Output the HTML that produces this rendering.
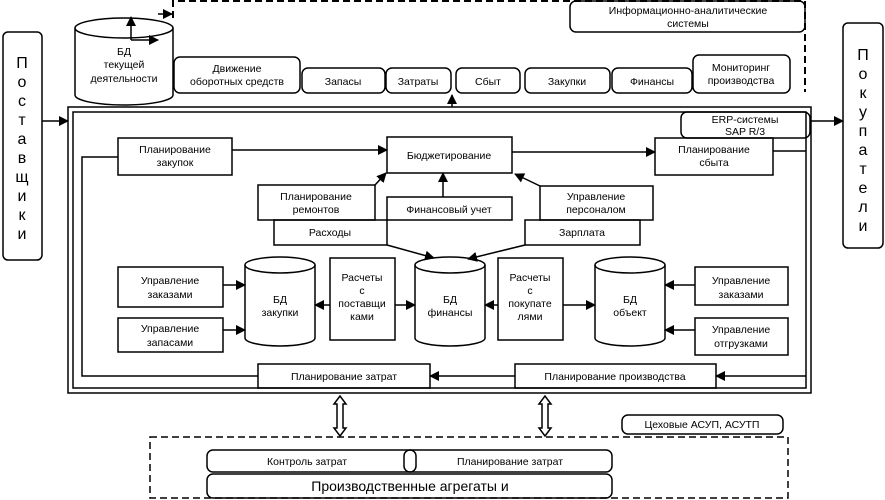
<!DOCTYPE html>
<html><head><meta charset="utf-8"><style>
html,body{margin:0;padding:0;background:#fff;}
svg{display:block;}
text{font-family:"Liberation Sans","Noto Sans CJK SC",sans-serif;font-size:10.5px;fill:#000;text-anchor:middle;}
text.big{font-size:16px;}
text.mid{font-size:14px;}
</style></head><body>
<svg width="885" height="500" viewBox="0 0 885 500" xmlns="http://www.w3.org/2000/svg">
<defs>
<marker id="a" markerWidth="10" markerHeight="10" refX="9" refY="5" orient="auto" markerUnits="userSpaceOnUse"><path d="M0,0 L10,5 L0,10 z" fill="#000"/></marker>
</defs>
<g fill="none" stroke="#000" stroke-width="1.5">
<rect x="3" y="32" width="39" height="228" rx="5"/>
<rect x="843" y="23" width="40" height="225" rx="5"/>
<path d="M173,18 V1 H805 V92" stroke-dasharray="7,4" stroke-width="2"/>
<rect x="570" y="1" width="235" height="31" rx="6"/>
<path d="M75,28 V95 A49,10 0 0 0 173,95 V28"/>
<ellipse cx="124" cy="28" rx="49" ry="10"/>
<rect x="174" y="57" width="126" height="36" rx="6"/>
<rect x="302" y="68" width="83" height="25" rx="6"/>
<rect x="386" y="68" width="65" height="25" rx="6"/>
<rect x="456" y="68" width="64" height="25" rx="6"/>
<rect x="525" y="68" width="85" height="25" rx="6"/>
<rect x="612" y="68" width="80" height="25" rx="6"/>
<rect x="693" y="55" width="97" height="38" rx="6"/>
<rect x="68" y="107" width="743" height="286"/>
<rect x="73" y="112" width="733" height="276"/>
<rect x="681" y="112" width="129" height="26" rx="6"/>
<rect x="118" y="138" width="114" height="37"/>
<rect x="387" y="137" width="125" height="36"/>
<rect x="655" y="138" width="118" height="37"/>
<rect x="258" y="185" width="117" height="35"/>
<rect x="387" y="197" width="125" height="23"/>
<rect x="540" y="186" width="113" height="34"/>
<rect x="274" y="220" width="113" height="25"/>
<rect x="525" y="220" width="115" height="25"/>
<rect x="118" y="267" width="105" height="40"/>
<rect x="118" y="318" width="105" height="34"/>
<rect x="695" y="267" width="93" height="38"/>
<rect x="695" y="318" width="93" height="37"/>
<rect x="330" y="258" width="65" height="82"/>
<rect x="498" y="258" width="65" height="82"/>
<rect x="258" y="364" width="172" height="24"/>
<rect x="515" y="364" width="201" height="24"/>
<path d="M245,265 V338 A35,8 0 0 0 315,338 V265"/><ellipse cx="280" cy="265" rx="35" ry="8"/>
<path d="M415,265 V338 A35,8 0 0 0 485,338 V265"/><ellipse cx="450" cy="265" rx="35" ry="8"/>
<path d="M595,265 V338 A35,8 0 0 0 665,338 V265"/><ellipse cx="630" cy="265" rx="35" ry="8"/>
<rect x="622" y="415" width="161" height="19" rx="6"/>
<path d="M150,437 H788 V498 H150 Z" stroke-dasharray="7,4"/>
<rect x="207" y="450" width="405" height="22" rx="6"/>
<rect x="404" y="450" width="12" height="22" rx="6"/>
<rect x="207" y="474" width="405" height="24" rx="6"/>
<path d="M334,404 L340,396 L346,404 H343 V428 H346 L340,436 L334,428 H337 V404 Z"/>
<path d="M539,404 L545,396 L551,404 H548 V428 H551 L545,436 L539,428 H542 V404 Z"/>
</g>
<g fill="none" stroke="#000" stroke-width="1.5">
<path d="M131,40 V17" marker-end="url(#a)"/>
<path d="M131,40 H158" marker-end="url(#a)"/>
<path d="M158,14 H172" marker-end="url(#a)"/>
<path d="M42,121 H68" marker-end="url(#a)"/>
<path d="M810,121 H843" marker-end="url(#a)"/>
<path d="M452,107 V95" marker-end="url(#a)"/>
<path d="M232,150 H387" marker-end="url(#a)"/>
<path d="M512,152 H655" marker-end="url(#a)"/>
<path d="M773,151 H806"/>
<path d="M118,157 H82 V376 H258"/>
<path d="M375,185 L386,173" marker-end="url(#a)"/>
<path d="M443,197 V173" marker-end="url(#a)"/>
<path d="M540,186 L515,174" marker-end="url(#a)"/>
<path d="M387,245 L434,258" marker-end="url(#a)"/>
<path d="M525,245 L468,259" marker-end="url(#a)"/>
<path d="M223,285 H245" marker-end="url(#a)"/>
<path d="M223,330 H245" marker-end="url(#a)"/>
<path d="M330,305 H315" marker-end="url(#a)"/>
<path d="M395,305 H415" marker-end="url(#a)"/>
<path d="M498,305 H485" marker-end="url(#a)"/>
<path d="M563,305 H595" marker-end="url(#a)"/>
<path d="M695,285 H665" marker-end="url(#a)"/>
<path d="M695,330 H665" marker-end="url(#a)"/>
<path d="M806,376 H716" marker-end="url(#a)"/>
<path d="M515,376 H430" marker-end="url(#a)"/>
</g>
<text class="big" x="22" y="68">П</text><text class="big" x="22" y="87">о</text><text class="big" x="22" y="106">с</text><text class="big" x="22" y="125">т</text><text class="big" x="22" y="144">а</text><text class="big" x="22" y="163">в</text><text class="big" x="22" y="182">щ</text><text class="big" x="22" y="201">и</text><text class="big" x="22" y="220">к</text><text class="big" x="22" y="239">и</text>
<text class="big" x="863" y="60">П</text><text class="big" x="863" y="79">о</text><text class="big" x="863" y="98">к</text><text class="big" x="863" y="117">у</text><text class="big" x="863" y="136">п</text><text class="big" x="863" y="155">а</text><text class="big" x="863" y="174">т</text><text class="big" x="863" y="193">е</text><text class="big" x="863" y="212">л</text><text class="big" x="863" y="231">и</text>
<text x="688" y="14">Информационно-аналитические</text>
<text x="688" y="27">системы</text>
<text x="124" y="55">БД</text><text x="124" y="68">текущей</text><text x="124" y="82">деятельности</text>
<text x="237" y="72">Движение</text><text x="237" y="85">оборотных средств</text>
<text x="343" y="85">Запасы</text><text x="418" y="85">Затраты</text><text x="488" y="85">Сбыт</text><text x="567" y="85">Закупки</text><text x="652" y="85">Финансы</text>
<text x="741" y="71">Мониторинг</text><text x="741" y="84">производства</text>
<text x="745" y="123">ERP-системы</text><text x="745" y="135">SAP R/3</text>
<text x="175" y="153">Планирование</text><text x="175" y="166">закупок</text>
<text x="449" y="159">Бюджетирование</text>
<text x="714" y="153">Планирование</text><text x="714" y="166">сбыта</text>
<text x="316" y="200">Планирование</text><text x="316" y="213">ремонтов</text>
<text x="449" y="213">Финансовый учет</text>
<text x="596" y="200">Управление</text><text x="596" y="213">персоналом</text>
<text x="330" y="236">Расходы</text><text x="582" y="236">Зарплата</text>
<text x="170" y="284">Управление</text><text x="170" y="298">заказами</text>
<text x="170" y="332">Управление</text><text x="170" y="346">запасами</text>
<text x="741" y="284">Управление</text><text x="741" y="298">заказами</text>
<text x="741" y="333">Управление</text><text x="741" y="347">отгрузками</text>
<text x="280" y="303">БД</text><text x="280" y="316">закупки</text>
<text x="450" y="303">БД</text><text x="450" y="316">финансы</text>
<text x="630" y="303">БД</text><text x="630" y="316">объект</text>
<text x="362" y="281">Расчеты</text><text x="362" y="294">с</text><text x="362" y="307">поставщи</text><text x="362" y="320">ками</text>
<text x="530" y="281">Расчеты</text><text x="530" y="294">с</text><text x="530" y="307">покупате</text><text x="530" y="320">лями</text>
<text x="344" y="380">Планирование затрат</text>
<text x="615" y="380">Планирование производства</text>
<text x="702" y="428">Цеховые АСУП, АСУТП</text>
<text x="307" y="465">Контроль затрат</text>
<text x="510" y="465">Планирование затрат</text>
<text class="mid" x="410" y="491">Производственные агрегаты и</text>
</svg>
</body></html>
